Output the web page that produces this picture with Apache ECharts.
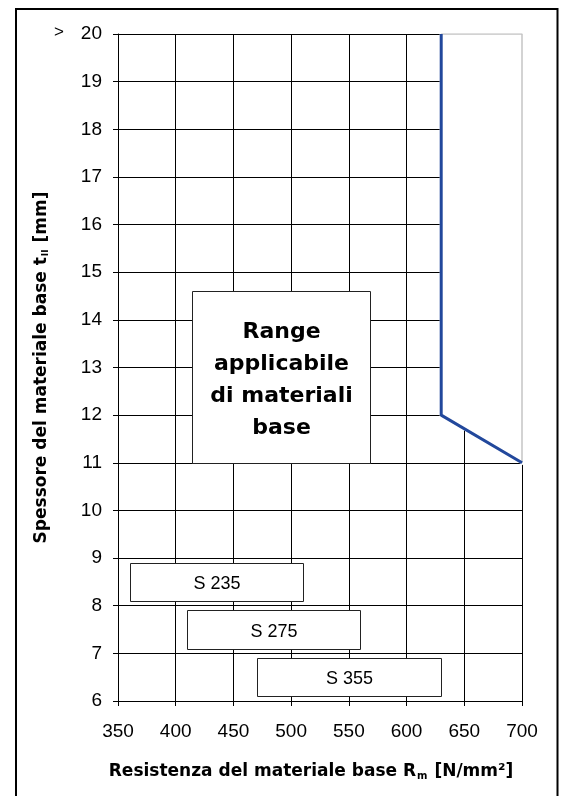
<!DOCTYPE html>
<html><head><meta charset="utf-8">
<script src="https://cdn.jsdelivr.net/npm/echarts@6/dist/echarts.min.js"></script>
<style>html,body{margin:0;padding:0;background:#fff}#c{width:563px;height:796px}</style>
</head><body><div id="c"></div>
<script>
// Boundary of applicable range (blue line)
const boundaryX = [630, 630, 700];
const boundaryY = [20, 12, 11];
// Region outside the range (no grid)
const outsideX = [630, 700, 700, 630];
const outsideY = [20, 20, 11, 12];
// Light grey edge of the region outside
const edgeX = [630, 700, 700];
const edgeY = [20, 20, 11];
// Labelled boxes
const boxLabels = ['Range\napplicabile\ndi materiali\nbase', 'S 235', 'S 275', 'S 355'];
const boxX1 = [414, 360, 410, 470];
const boxX2 = [568, 510, 560, 630];
const boxY1 = [14.6, 8.9, 7.9, 6.9];
const boxY2 = [11.0, 8.1, 7.1, 6.1];
const boxBold = [true, false, false, false];

const xTitle = '{t|Resistenza del materiale base R}{s|m}{t| [N/mm²]}';
const yTitle = '{t|Spessore del materiale base t}{s|II}{t| [mm]}';

const chart = echarts.init(document.getElementById('c'), null, {renderer: 'canvas'});
const FONT = 'Liberation Sans';
const BFONT = 'DejaVu Sans';
const crisp = v => Math.round(v) + 0.5;

chart.setOption({
  animation: false,
  backgroundColor: '#fff',
  textStyle: {fontFamily: FONT},
  graphic: [{
    type: 'rect', z: 100,
    shape: {x: 16, y: 9, width: 541.5, height: 800},
    style: {fill: 'none', stroke: '#000', lineWidth: 2}
  }],
  grid: {left: 118, top: 34, right: 41, bottom: 95, containLabel: false},
  xAxis: {
    type: 'value', min: 350, max: 700, interval: 50,
    axisLine: {show: true, lineStyle: {color: '#000', width: 1}},
    axisTick: {show: true, length: 5, lineStyle: {color: '#000'}},
    axisLabel: {color: '#000', fontSize: 19, margin: 21, fontFamily: FONT},
    splitLine: {show: true, lineStyle: {color: '#000', width: 1}},
    name: xTitle, nameLocation: 'middle', nameGap: 62,
    nameTextStyle: {
      padding: [0, 18, 0, 0],
      rich: {
        t: {fontFamily: BFONT, fontWeight: 'bold', fontSize: 17, color: '#000'},
        s: {fontFamily: BFONT, fontWeight: 'bold', fontSize: 10, color: '#000', verticalAlign: 'bottom', padding: [8, 1, 0, 1]}
      }
    }
  },
  yAxis: {
    type: 'value', min: 6, max: 20, interval: 1,
    axisLine: {show: true, lineStyle: {color: '#000', width: 1}},
    axisTick: {show: true, length: 5, lineStyle: {color: '#000'}},
    axisLabel: {
      color: '#000', fontSize: 19, margin: 16, fontFamily: FONT,
      formatter: v => v === 20 ? '{gt|>}{n|20}' : '{n|' + v + '}',
      rich: {
        n: {fontSize: 19, fontFamily: FONT, color: '#000'},
        gt: {fontSize: 17, fontFamily: FONT, color: '#000', verticalAlign: 'top', padding: [0, 17, 4, 0]}
      }
    },
    splitLine: {show: true, lineStyle: {color: '#000', width: 1}},
    name: yTitle, nameLocation: 'middle', nameGap: 68, nameRotate: 90,
    nameMoveOverlap: false,
    nameTextStyle: {
      rich: {
        t: {fontFamily: BFONT, fontWeight: 'bold', fontSize: 17, color: '#000'},
        s: {fontFamily: BFONT, fontWeight: 'bold', fontSize: 9, color: '#000', verticalAlign: 'bottom', padding: [8, 1, 0, 1]}
      }
    }
  },
  series: [
    {
      type: 'custom', z: 3, silent: true,
      data: outsideX.map((x, i) => [x, outsideY[i]]),
      renderItem: (params, api) => {
        if (params.dataIndex !== 0) return null;
        const pts = outsideX.map((x, i) => api.coord([x, outsideY[i]]));
        return {type: 'polygon', shape: {points: pts}, style: {fill: '#fff', stroke: '#fff', lineWidth: 3}};
      },
      clip: false
    },
    {
      type: 'line', z: 4, silent: true, symbol: 'none',
      data: edgeX.map((x, i) => [x, edgeY[i]]),
      lineStyle: {color: '#c4c4c4', width: 1.5}
    },
    {
      type: 'line', z: 5, silent: true, symbol: 'none',
      data: boundaryX.map((x, i) => [x, boundaryY[i]]),
      lineStyle: {color: '#22489c', width: 3}
    },
    {
      type: 'custom', z: 6, silent: true,
      data: boxLabels.map((l, i) => [boxX1[i], boxY1[i], boxX2[i], boxY2[i]]),
      encode: {x: [0, 2], y: [1, 3]},
      renderItem: (params, api) => {
        const i = params.dataIndex;
        const p1 = api.coord([api.value(0), api.value(1)]);
        const p2 = api.coord([api.value(2), api.value(3)]);
        const x = crisp(p1[0]), y = crisp(p1[1]);
        const w = Math.round(p2[0]) - Math.round(p1[0]);
        const h = Math.round(p2[1]) - Math.round(p1[1]);
        const bold = boxBold[i];
        return {
          type: 'rect',
          shape: {x: x, y: y, width: w, height: h},
          style: {fill: '#fff', stroke: '#222', lineWidth: 1},
          textContent: {
            type: 'text',
            style: {
              text: boxLabels[i],
              fontFamily: bold ? BFONT : FONT,
              fontWeight: bold ? 'bold' : 'normal',
              fontSize: bold ? 22 : 18,
              lineHeight: bold ? 32 : 20,
              fill: '#000', align: 'center', verticalAlign: 'middle'
            }
          },
          textConfig: {position: 'inside', offset: [0, bold ? 3 : 2]}
        };
      }
    }
  ]
});
</script></body></html>
